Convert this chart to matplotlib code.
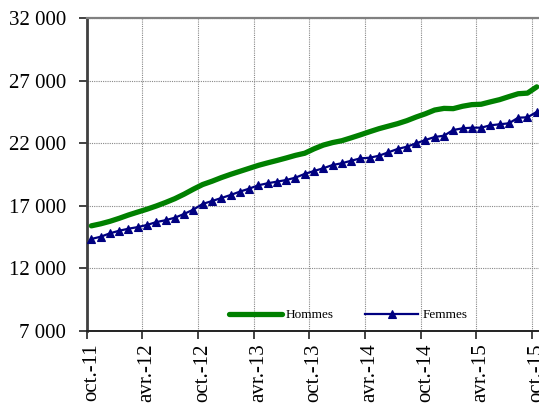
import matplotlib
matplotlib.use("Agg")
import matplotlib.pyplot as plt
from matplotlib.ticker import FuncFormatter, FixedLocator

plt.rcParams['font.family'] = ['Liberation Serif', 'DejaVu Serif']

# Monthly values, oct.-11 .. oct.-15 (49 months)
hommes = [15400, 15560, 15760, 16000, 16265, 16500, 16730, 16985, 17265, 17570,
          17930, 18330, 18700, 18960, 19250, 19510, 19750, 19990, 20230, 20430,
          20620, 20820, 21030, 21200, 21550, 21850, 22050, 22200, 22430, 22670,
          22920, 23160, 23360, 23560, 23800, 24090, 24350, 24650, 24780, 24760,
          24950, 25080, 25110, 25300, 25480, 25720, 25950, 26000, 26500]
femmes = [14350, 14530, 14800, 15010, 15170, 15300, 15470, 15700, 15850, 16050,
          16350, 16700, 17150, 17380, 17620, 17860, 18130, 18370, 18640, 18800,
          18930, 19060, 19250, 19550, 19780, 20000, 20260, 20400, 20600, 20790,
          20840, 21000, 21270, 21540, 21720, 21990, 22256, 22495, 22600, 23054,
          23190, 23240, 23240, 23430, 23510, 23590, 24037, 24070, 24500]
tick_labels = ['oct.-11', 'avr.-12', 'oct.-12', 'avr.-13', 'oct.-13',
               'avr.-14', 'oct.-14', 'avr.-15', 'oct.-15']
series_names = ['Hommes', 'Femmes']
y_ticks = [7000, 12000, 17000, 22000, 27000, 32000]

n = len(hommes)
x = list(range(n))

fig = plt.figure(figsize=(5.39, 4.04), dpi=100)
ax = fig.add_axes([86.7 / 539, (404 - 331) / 404, 454.7 / 539, 313 / 404])

ax.plot(x, hommes, color='#008000', lw=3.8, solid_capstyle='round',
        label=series_names[0], zorder=3)
ax.plot(x, femmes, color='#000080', lw=1.6, marker='^', markersize=5.5,
        markeredgewidth=0.8, label=series_names[1], zorder=4)

ax.set_xlim(-0.5, n - 0.5)
ax.set_ylim(7000, 32000)

# category boundaries as major ticks, labels at category centres
step = 6
bounds = [-0.5 + step * k for k in range(len(tick_labels))]
centres = [step * k for k in range(len(tick_labels))]
ax.xaxis.set_major_locator(FixedLocator(bounds))
ax.xaxis.set_major_formatter(FuncFormatter(lambda v, p: ''))
ax.xaxis.set_minor_locator(FixedLocator(centres))
ax.set_xticklabels(tick_labels, minor=True, rotation=90, fontsize=15)
ax.tick_params(axis='x', which='major', direction='out', length=6, width=1.2,
               color='#222222')
ax.tick_params(axis='x', which='minor', length=0, pad=9)

ax.set_yticks(y_ticks)
ax.yaxis.set_major_formatter(FuncFormatter(lambda v, p: f"{int(v):,}".replace(',', ' ')))
ax.tick_params(axis='y', direction='out', length=6, width=1.2, color='#222222',
               labelsize=15, pad=9)

ax.grid(True, which='major', color='#888888', linestyle=(0, (1, 1)), lw=0.8)
ax.set_axisbelow(True)

ax.spines['right'].set_visible(False)
ax.spines['top'].set_color('#808080')
ax.spines['top'].set_linewidth(1.6)
ax.spines['left'].set_color('#404040')
ax.spines['left'].set_linewidth(2)
ax.spines['bottom'].set_color('#222222')
ax.spines['bottom'].set_linewidth(1.4)

leg = ax.legend(loc='center', bbox_to_anchor=(0.575, 0.051), ncol=2,
                frameon=False, fontsize=9.5, handlelength=4.0,
                handletextpad=0.3, columnspacing=2.4, borderpad=0.2)

fig.savefig('out.png', dpi=100)
